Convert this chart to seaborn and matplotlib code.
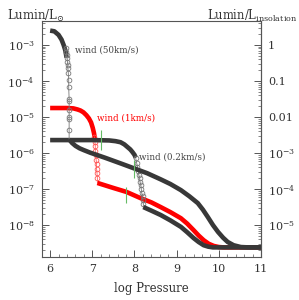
import numpy as np
import pandas as pd
import matplotlib
matplotlib.use('Agg')
import matplotlib.pyplot as plt
import seaborn as sns
from matplotlib.ticker import MultipleLocator, LogLocator, FuncFormatter, NullFormatter

# wind 50 km/s : thick top part, circle column, thick continuation
x50_top = [6.0, 6.1, 6.2, 6.27, 6.32, 6.36, 6.39]
lg50_top = [-2.6, -2.62, -2.72, -2.85, -3.0, -3.15, -3.35]
x50_circ = [6.37, 6.38, 6.39, 6.40, 6.41, 6.42, 6.42, 6.43, 6.44, 6.44, 6.45, 6.45, 6.45, 6.45, 6.45, 6.45, 6.45]
lg50_circ = [-3.08, -3.19, -3.28, -3.36, -3.47, -3.56, -3.64, -3.78, -3.97, -4.17, -4.5, -4.55, -4.81, -5.0, -5.05, -5.36, -5.62]
x50_low = [6.45, 6.52, 6.6, 6.7, 6.8, 6.95, 7.3, 7.7, 8.0, 8.3, 8.62, 8.85, 9.1, 9.3, 9.5, 9.62,
           9.74, 9.86, 9.98, 10.1, 10.21, 10.35, 10.52, 10.7, 11.0]
lg50_low = [-5.62, -5.72, -5.8, -5.87, -5.92, -5.99, -6.13, -6.3, -6.43, -6.56, -6.73, -6.86, -7.03, -7.2, -7.39, -7.57,
            -7.78, -8.0, -8.19, -8.35, -8.47, -8.56, -8.61, -8.62, -8.62]

# wind 1 km/s
x1_top = [6.0, 6.4, 6.55, 6.65, 6.72, 6.79, 6.86, 6.92, 6.97, 7.01, 7.04, 7.06]
lg1_top = [-4.75, -4.75, -4.76, -4.79, -4.82, -4.87, -4.95, -5.04, -5.15, -5.3, -5.45, -5.6]
x1_circ = [7.05, 7.06, 7.07, 7.07, 7.08, 7.09, 7.1, 7.1, 7.11, 7.12, 7.12]
lg1_circ = [-5.55, -5.68, -5.8, -5.93, -6.05, -6.18, -6.3, -6.43, -6.55, -6.7, -6.83]
x1_low = [7.12, 7.5, 7.81, 8.14, 8.4, 8.62, 8.85, 9.1, 9.25, 9.4, 9.52, 9.64, 9.76, 9.88, 10.0, 10.12, 10.5, 11.0]
lg1_low = [-6.83, -6.97, -7.08, -7.25, -7.37, -7.5, -7.64, -7.81, -7.96, -8.14, -8.29, -8.42, -8.52, -8.58, -8.61,
           -8.62, -8.62, -8.62]

# wind 0.2 km/s
x02_top = [6.0, 7.0, 7.4, 7.55, 7.67, 7.76, 7.83, 7.9, 7.95, 8.0, 8.03]
lg02_top = [-5.64, -5.64, -5.65, -5.67, -5.7, -5.76, -5.83, -5.9, -5.97, -6.05, -6.13]
x02_circ = [8.03, 8.05, 8.07, 8.09, 8.1, 8.12, 8.13, 8.15, 8.16, 8.17, 8.19, 8.2, 8.21, 8.21]
lg02_circ = [-6.15, -6.27, -6.38, -6.5, -6.6, -6.7, -6.8, -6.9, -7.0, -7.1, -7.2, -7.3, -7.42, -7.5]
x02_low = [8.21, 8.4, 8.62, 8.85, 9.1, 9.25, 9.4, 9.52, 9.64, 9.75, 9.86, 10.0, 10.3, 11.0]
lg02_low = [-7.5, -7.6, -7.72, -7.87, -8.05, -8.2, -8.36, -8.47, -8.56, -8.6, -8.62, -8.62, -8.62, -8.62]

# green marks
green_x = [7.21, 7.81, 8.0]
green_lo = [1.2e-6, 4.1e-8, 2.0e-7]
green_hi = [4.4e-6, 1.15e-7, 6.5e-7]

sns.set_style('ticks')
plt.rcParams['font.family'] = ['DejaVu Serif']
plt.rcParams['mathtext.fontset'] = 'dejavuserif'

DARK = '#383838'
RED = '#ff0000'
GRAY = '#777777'


def frame(x, lg):
    return pd.DataFrame({'x': x, 'y': 10.0 ** np.array(lg)})


fig = plt.figure(figsize=(2.99, 3.0), dpi=100)
ax = fig.add_axes([0.1395, 0.143, 0.7335, 0.787])

thick = dict(estimator=None, sort=False, lw=3.3, solid_capstyle='butt', ax=ax)
circ = dict(estimator=None, sort=False, lw=0.6, marker='o', markersize=3.4,
            markerfacecolor='none', markeredgewidth=0.6, ax=ax)

# red
sns.lineplot(data=frame(x1_top, lg1_top), x='x', y='y', color=RED, **thick)
sns.lineplot(data=frame(x1_circ, lg1_circ), x='x', y='y', color='#ff6666',
             markeredgecolor='#ff5555', markevery=list(range(len(x1_circ) - 1)), **circ)
sns.lineplot(data=frame(x1_low, lg1_low), x='x', y='y', color=RED, **thick)

# 0.2 km/s
sns.lineplot(data=frame(x02_top, lg02_top), x='x', y='y', color=DARK, **thick)
sns.lineplot(data=frame(x02_circ, lg02_circ), x='x', y='y', color=GRAY,
             markeredgecolor=GRAY, markevery=list(range(len(x02_circ) - 1)), **circ)
sns.lineplot(data=frame(x02_low, lg02_low), x='x', y='y', color=DARK, **thick)

# 50 km/s
sns.lineplot(data=frame(x50_top, lg50_top), x='x', y='y', color=DARK, **thick)
sns.lineplot(data=frame(x50_circ, lg50_circ), x='x', y='y', color=GRAY,
             markeredgecolor=GRAY, markevery=list(range(len(x50_circ) - 1)), **circ)
sns.lineplot(data=frame(x50_low, lg50_low), x='x', y='y', color=DARK, **thick)

ax.vlines(green_x, green_lo, green_hi, color='#66bb66', lw=0.8, zorder=5)

ax.set_yscale('log')
ax.set_xlim(5.8, 11.0)
ax.set_ylim(1.29e-9, 4.64e-3)
ax.set_xlabel('log Pressure', fontsize=8.5, color='#333333', labelpad=6)
ax.set_ylabel('')

ax.text(6.6, 10 ** -3.14, 'wind (50km/s)', fontsize=6.3, color='#444444', va='center')
ax.text(7.12, 10 ** -5.03, 'wind (1km/s)', fontsize=6.3, color=RED, va='center')
ax.text(8.1, 10 ** -6.11, 'wind (0.2km/s)', fontsize=6.3, color='#444444', va='center')

for s in ['left', 'right', 'top', 'bottom']:
    ax.spines[s].set_color('#555555')
    ax.spines[s].set_linewidth(0.8)

ax.xaxis.set_major_locator(MultipleLocator(1))
ax.xaxis.set_minor_locator(MultipleLocator(0.2))
ax.yaxis.set_major_locator(LogLocator(base=10, numticks=20))
ax.yaxis.set_minor_locator(LogLocator(base=10, subs=np.arange(2, 10), numticks=20))
ax.yaxis.set_minor_formatter(NullFormatter())
ax.tick_params(which='both', direction='in', colors='#555555', labelcolor='#333333',
               labelsize=8, top=False, right=False)
ax.tick_params(which='major', length=5, width=0.7)
ax.tick_params(which='minor', length=2.5, width=0.5)
ax.tick_params(axis='x', pad=5)
ax.tick_params(axis='y', pad=5)

sec = ax.secondary_yaxis('right', functions=(lambda y: y * 1e3, lambda y: y / 1e3))
sec.set_yscale('log')
sec.yaxis.set_major_locator(LogLocator(base=10, numticks=20))
sec.yaxis.set_minor_locator(LogLocator(base=10, subs=np.arange(2, 10), numticks=20))
sec.yaxis.set_minor_formatter(NullFormatter())


def right_fmt(v, pos):
    e = int(round(np.log10(v)))
    if e == 0:
        return '1'
    if e == -1:
        return '0.1'
    if e == -2:
        return '0.01'
    return r'$10^{%d}$' % e


sec.yaxis.set_major_formatter(FuncFormatter(right_fmt))
sec.tick_params(which='both', direction='in', colors='#555555', labelcolor='#333333', labelsize=8, pad=5)
sec.tick_params(which='major', length=5, width=0.7)
sec.tick_params(which='minor', length=2.5, width=0.5)
sec.spines['right'].set_color('#555555')

fig.text(0.025, 0.948, r'Lumin/L$_{\odot}$', fontsize=8.5, color='#333333', va='center')
fig.text(0.995, 0.948, r'Lumin/L$_{\mathrm{insolation}}$', fontsize=8.3, color='#333333',
         va='center', ha='right')

fig.savefig('out.png', dpi=100)
